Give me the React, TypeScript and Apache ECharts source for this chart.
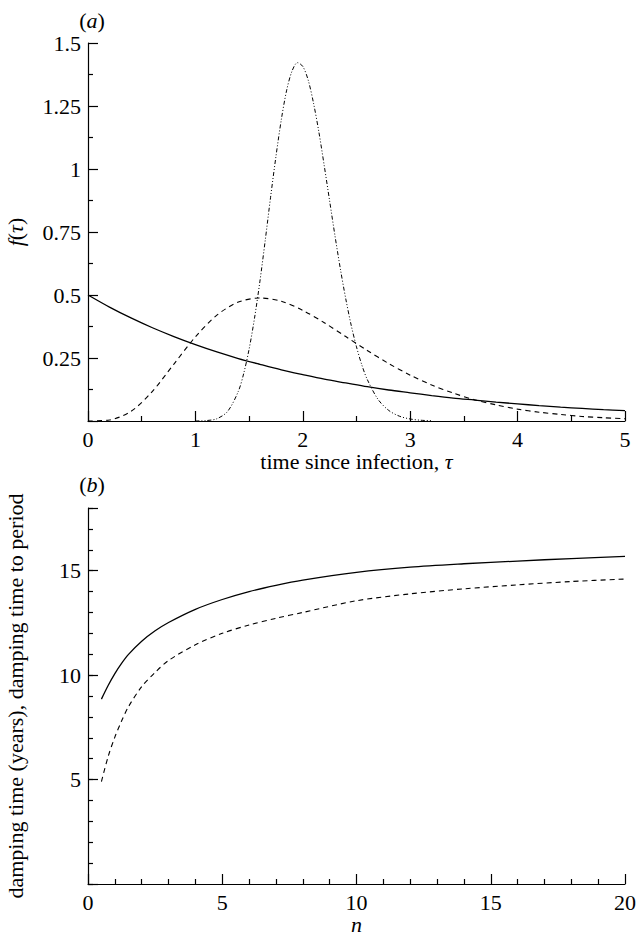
import React, { useEffect, useRef } from "react";
import * as echarts from "echarts";

// Panel (a): time since infection tau and f(tau)
const tauA: number[] = [0, 0.2, 0.4, 0.6, 0.8, 1.0, 1.2, 1.4, 1.6, 1.8, 2.0, 2.2, 2.4, 2.6, 2.8, 3.0, 3.2, 3.4, 3.6, 3.8, 4.0, 4.2, 4.4, 4.6, 4.8, 5.0];
const fSolid: number[] = [0.5, 0.452, 0.409, 0.37, 0.335, 0.303, 0.274, 0.248, 0.225, 0.203, 0.184, 0.166, 0.151, 0.136, 0.123, 0.112, 0.101, 0.091, 0.083, 0.075, 0.068, 0.061, 0.055, 0.05, 0.045, 0.041];
const fDashed: number[] = [0, 0.004, 0.038, 0.118, 0.226, 0.334, 0.42, 0.472, 0.488, 0.475, 0.439, 0.39, 0.335, 0.28, 0.228, 0.182, 0.143, 0.111, 0.084, 0.064, 0.047, 0.035, 0.026, 0.018, 0.013, 0.009];
const tauPeak: number[] = [1.0, 1.1, 1.2, 1.3, 1.4, 1.45, 1.5, 1.55, 1.6, 1.65, 1.7, 1.75, 1.8, 1.85, 1.9, 1.95, 2.0, 2.05, 2.1, 2.15, 2.2, 2.25, 2.3, 2.35, 2.4, 2.45, 2.5, 2.55, 2.6, 2.7, 2.8, 2.9, 3.0, 3.1, 3.2];
const fPeak: number[] = [0.0002, 0.0016, 0.009, 0.038, 0.118, 0.189, 0.285, 0.407, 0.552, 0.716, 0.888, 1.05, 1.196, 1.313, 1.389, 1.422, 1.407, 1.353, 1.261, 1.146, 1.012, 0.873, 0.734, 0.603, 0.485, 0.381, 0.294, 0.222, 0.165, 0.086, 0.042, 0.019, 0.008, 0.003, 0.001];

// Panel (b): n and damping times
const nB: number[] = [0.5, 0.75, 1, 1.25, 1.5, 2, 2.5, 3, 4, 5, 6, 7, 8, 10, 12, 14, 16, 18, 20];
const dampSolid: number[] = [8.85, 9.5, 10.07, 10.56, 10.98, 11.62, 12.12, 12.52, 13.15, 13.62, 14.0, 14.3, 14.55, 14.92, 15.17, 15.33, 15.46, 15.58, 15.68];
const dampDashed: number[] = [4.9, 6.1, 7.03, 7.8, 8.47, 9.45, 10.13, 10.7, 11.45, 12.0, 12.4, 12.72, 13.0, 13.56, 13.89, 14.13, 14.32, 14.48, 14.6];

const pairs = (xs: number[], ys: number[]) => xs.map((x, i) => [x, ys[i]]);

export default function App() {
  const ref = useRef<HTMLDivElement>(null);
  useEffect(() => {
    if (!ref.current) return;
    const chart = echarts.init(ref.current, null, { renderer: "svg" });
    const F = "Liberation Serif";
    const S = 22;
    const lab = () => ({ color: "#000", fontFamily: F, fontSize: S, margin: 7 });
    const nm = () => ({ color: "#000", fontFamily: F, fontSize: S, rich: { i: { fontStyle: "italic", fontFamily: F, fontSize: S, color: "#000" } } });
    const line = () => ({ show: true, lineStyle: { color: "#000", width: 1.2 } });
    const tick = (len: number) => ({ show: true, inside: true, length: len, lineStyle: { color: "#000", width: 1.2 } });
    const minor = (n: number) => ({ show: true, splitNumber: n, length: 5, lineStyle: { color: "#000", width: 1.2 } });
    const lineBase = { type: "line", showSymbol: false, symbol: "none", smooth: 0.3 };
    const panelLabel = (t: string, y: number) => ({
      type: "text", x: 92, y,
      style: {
        text: `({i|${t}})`, fill: "#000", fontFamily: F, fontSize: S, align: "center", verticalAlign: "middle",
        rich: { i: { fontStyle: "italic", fontFamily: F, fontSize: S, fill: "#000" } },
      },
    });
    chart.setOption({
      animation: false,
      grid: [
        { left: 88, top: 43, width: 537, height: 378, containLabel: false, outerBoundsMode: "none" },
        { left: 88, top: 508, width: 537, height: 376, containLabel: false, outerBoundsMode: "none" },
      ],
      xAxis: [
        {
          gridIndex: 0, type: "value", min: 0, max: 5, interval: 1,
          axisLine: line(), axisTick: tick(10), minorTick: minor(2), splitLine: { show: false },
          axisLabel: lab(),
          name: "time since infection, {i|τ}", nameLocation: "middle", nameGap: 27, nameTextStyle: nm(),
        },
        {
          gridIndex: 1, type: "value", min: 0, max: 20, interval: 5,
          axisLine: line(), axisTick: tick(10), minorTick: minor(5), splitLine: { show: false },
          axisLabel: lab(),
          name: "{i|n}", nameLocation: "middle", nameGap: 22, nameTextStyle: nm(),
        },
      ],
      yAxis: [
        {
          gridIndex: 0, type: "value", min: 0, max: 1.5, interval: 0.25, position: "left",
          axisLine: line(), axisTick: tick(10), minorTick: minor(2), splitLine: { show: false },
          axisLabel: { ...lab(), formatter: (v: number) => (v === 0 ? "" : String(v)) },
          name: "{i|f}({i|τ})", nameLocation: "middle", nameRotate: 90, nameGap: 62, nameTextStyle: nm(),
        },
        {
          gridIndex: 1, type: "value", min: 0, max: 18, interval: 1, position: "left", offset: 0,
          axisLine: line(), axisTick: tick(5), splitLine: { show: false },
          axisLabel: { show: false },
          name: "damping time (years), damping time to period", nameLocation: "middle", nameRotate: 90, nameGap: 62, nameTextStyle: nm(),
        },
        {
          gridIndex: 1, type: "value", min: 0, max: 18, interval: 5, position: "left", offset: 0,
          axisLine: { show: false }, axisTick: tick(10), splitLine: { show: false },
          axisLabel: { ...lab(), formatter: (v: number) => (v === 0 || v === 18 ? "" : String(v)) },
        },
      ],
      graphic: [panelLabel("a", 20), panelLabel("b", 484)],
      series: [
        { ...lineBase, xAxisIndex: 0, yAxisIndex: 0, data: pairs(tauA, fSolid), lineStyle: { color: "#000", width: 1.3, type: "solid" } },
        { ...lineBase, xAxisIndex: 0, yAxisIndex: 0, data: pairs(tauA, fDashed), lineStyle: { color: "#000", width: 1.1, type: [5, 4] } },
        { ...lineBase, xAxisIndex: 0, yAxisIndex: 0, data: pairs(tauPeak, fPeak), lineStyle: { color: "#000", width: 1, type: [4, 2, 1, 2, 1, 2] } },
        { ...lineBase, xAxisIndex: 1, yAxisIndex: 1, data: pairs(nB, dampSolid), lineStyle: { color: "#000", width: 1.3, type: "solid" } },
        { ...lineBase, xAxisIndex: 1, yAxisIndex: 1, data: pairs(nB, dampDashed), lineStyle: { color: "#000", width: 1.1, type: [5, 4] } },
      ],
    });
    return () => chart.dispose();
  }, []);
  return <div ref={ref} style={{ position: "fixed", left: 0, top: 0, width: 638, height: 932, background: "#fff" }} />;
}
